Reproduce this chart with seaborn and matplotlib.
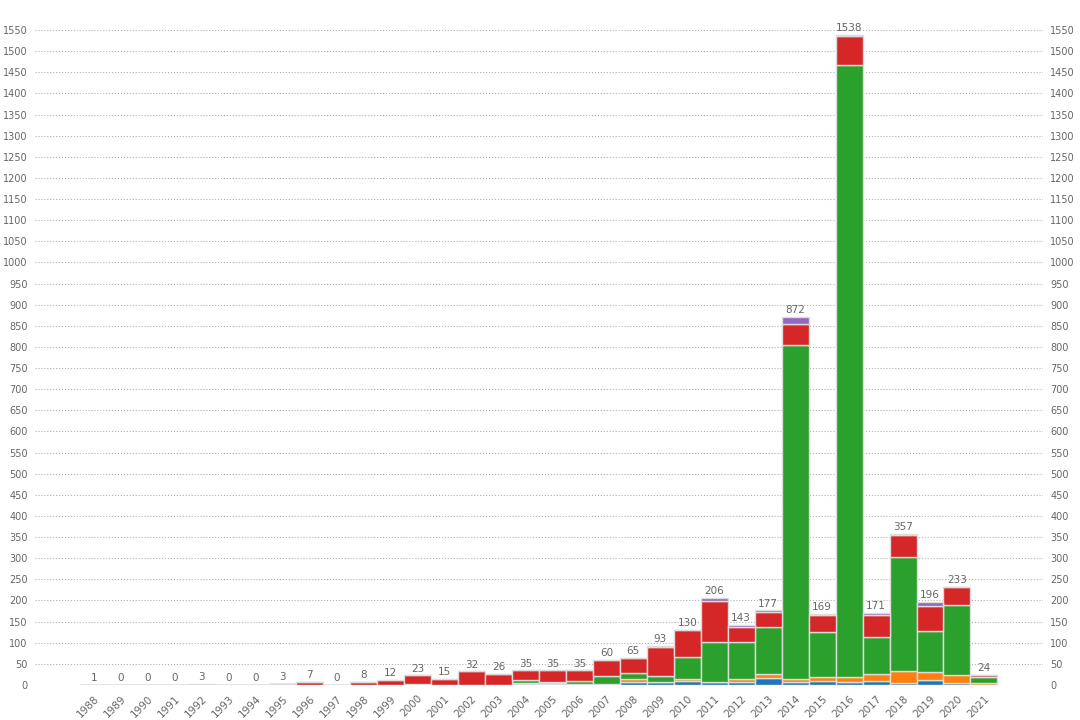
import seaborn as sns
import matplotlib.pyplot as plt
import pandas as pd

years = list(range(1988, 2022))

# stacked segments per year (bottom to top)
blue = [0, 0, 0, 0, 0, 0, 0, 0, 0, 0, 0, 0, 2, 1, 1, 0, 3, 3, 3, 3,
        7, 8, 9, 8, 8, 17, 6, 10, 6, 9, 5, 12, 5, 0]
orange = [0, 0, 0, 0, 0, 0, 0, 0, 0, 0, 0, 0, 0, 0, 0, 0, 1, 2, 0, 0,
          7, 0, 5, 0, 7, 9, 9, 9, 12, 16, 28, 18, 19, 5]
green = [0, 0, 0, 0, 0, 0, 0, 0, 0, 0, 0, 0, 0, 0, 0, 0, 8, 3, 6, 19,
         15, 14, 53, 94, 87, 111, 789, 106, 1449, 88, 270, 97, 166, 15]
red = [0, 0, 0, 0, 0, 0, 0, 0, 6, 0, 8, 12, 21, 14, 31, 25, 23, 27, 26, 38,
       34, 68, 63, 97, 35, 35, 51, 41, 69, 52, 53, 61, 41, 4]
purple = [0, 0, 0, 0, 3, 0, 0, 0, 1, 0, 0, 0, 0, 0, 0, 1, 0, 0, 0, 0,
          2, 3, 0, 7, 6, 5, 17, 3, 2, 6, 1, 8, 2, 0]
gray = [1, 0, 0, 0, 0, 0, 0, 3, 0, 0, 0, 0, 0, 0, 0, 0, 0, 0, 0, 0,
        0, 0, 0, 0, 0, 0, 0, 0, 0, 0, 0, 0, 0, 0]

series = {'gray': gray, 'blue': blue, 'orange': orange, 'green': green,
          'red': red, 'purple': purple}
colors = {'gray': '#a0a0a0', 'blue': '#1f77b4', 'orange': '#ff7f0e',
          'green': '#2ca02c', 'red': '#d62728', 'purple': '#9467bd'}

rows = []
for name, vals in series.items():
    for y, v in zip(years, vals):
        rows.append({'year': y, 'group': name, 'count': v})
df = pd.DataFrame(rows)
totals = df.groupby('year')['count'].sum()

sns.set_style('white')
fig = plt.figure(figsize=(10.8, 7.2), dpi=100)
ax = fig.add_axes([0.032, 0.0486, 0.934, 0.939])

# histplot stacks the last hue level at the bottom
order = ['purple', 'red', 'green', 'orange', 'blue', 'gray']
sns.histplot(data=df, x='year', weights='count', hue='group', hue_order=order,
             palette=colors, multiple='stack', discrete=True, shrink=1,
             element='bars', alpha=1, edgecolor='#dcdcdc', linewidth=1,
             legend=False, ax=ax)

for y, t in totals.items():
    ax.text(y, t + 4, str(t), ha='center', va='bottom', fontsize=7.5, color='#666666')

ax.set_xlim(1988 - 2.2, 2021 + 2.2)
ax.set_ylim(0, 1600)
ax.set_xticks(years)
ax.set_xticklabels([str(y) for y in years], rotation=45, ha='right',
                   rotation_mode='anchor', fontsize=7.5, color='#666666')
ax.set_yticks(range(0, 1551, 50))
ax.tick_params(axis='y', labelsize=7, labelcolor='#666666', labelright=True,
               left=False, right=False, length=0, pad=5)
ax.tick_params(axis='x', bottom=False, length=0, pad=6)
ax.yaxis.grid(True, linestyle=':', color='#b0b0b0', linewidth=0.8)
ax.set_axisbelow(True)
ax.set_xlabel('')
ax.set_ylabel('')
sns.despine(ax=ax, left=True, bottom=True)

plt.savefig('out.png', dpi=100)
